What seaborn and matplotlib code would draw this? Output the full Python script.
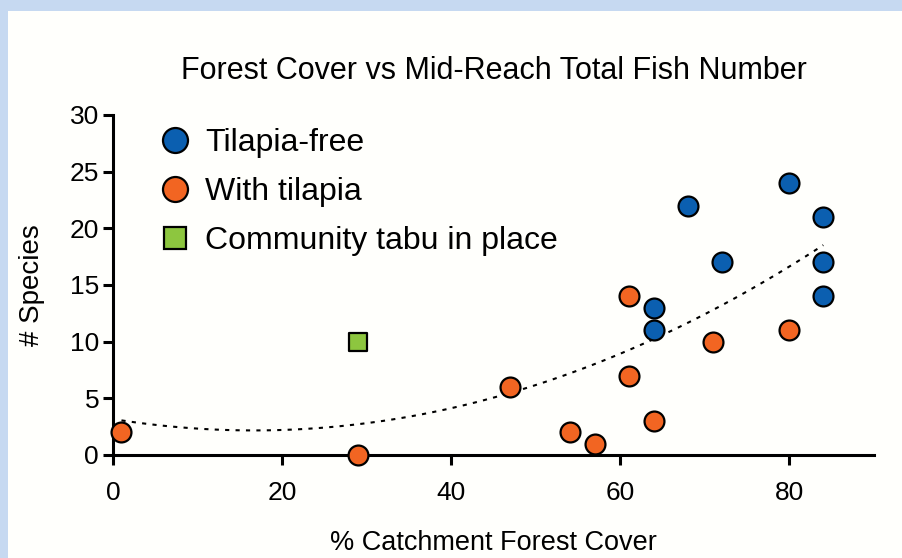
import matplotlib
matplotlib.use("Agg")
import matplotlib.pyplot as plt
import seaborn as sns
import pandas as pd
from matplotlib.lines import Line2D
from matplotlib.patches import Rectangle

# Data
free_x = [80, 84, 68, 72, 84, 84, 64, 64]
free_y = [24, 21, 22, 17, 17, 14, 13, 11]
tilapia_x = [1, 29, 47, 54, 57, 61, 61, 64, 71, 80]
tilapia_y = [2, 0, 6, 2, 1, 14, 7, 3, 10, 11]
tabu_x = [29]
tabu_y = [10]
x_ticks = [0, 20, 40, 60, 80]
y_ticks = [0, 5, 10, 15, 20, 25, 30]

sns.set_style("ticks", {"text.color": "black", "axes.labelcolor": "black",
                        "xtick.color": "black", "ytick.color": "black",
                        "axes.edgecolor": "black"})
plt.rcParams['font.family'] = ['Liberation Sans', 'DejaVu Sans']

BLUE = "#0b5fb0"
ORANGE = "#f26522"
GREEN = "#8dc63f"

fig = plt.figure(figsize=(9.03, 5.58), dpi=100)
fig.patch.set_facecolor("#c6d9f1")
fig.patches.append(Rectangle((8/903, 0), 1 - 8/903, 1 - 11/558, transform=fig.transFigure,
                             facecolor="#fffffc", edgecolor="none", zorder=-10))

ax = fig.add_axes([113/903, 1 - 455/558, (874 - 113)/903, (455 - 115)/558])
ax.set_facecolor("none")
ax.set_zorder(2)

df_free = pd.DataFrame({"x": free_x, "y": free_y})
df_til = pd.DataFrame({"x": tilapia_x, "y": tilapia_y})
df_tabu = pd.DataFrame({"x": tabu_x, "y": tabu_y})
df_all = pd.concat([df_free, df_til, df_tabu], ignore_index=True)

sns.regplot(data=df_all, x="x", y="y", order=2, ci=None, scatter=False, ax=ax,
            line_kws=dict(color="black", linestyle=(0, (2, 3)), linewidth=1.5))

kw = dict(s=205, edgecolor="black", linewidth=1.6, zorder=5, clip_on=False)
sns.scatterplot(data=df_free, x="x", y="y", color=BLUE, marker="o", ax=ax, **kw)
sns.scatterplot(data=df_til, x="x", y="y", color=ORANGE, marker="o", ax=ax, **kw)
sns.scatterplot(data=df_tabu, x="x", y="y", color=GREEN, marker="s", ax=ax,
                s=170, edgecolor="black", linewidth=1.6, zorder=5)

ax.set_xlim(0, 90)
ax.set_ylim(0, 30)
ax.set_xticks(x_ticks)
ax.set_yticks(y_ticks)
sns.despine(ax=ax)
for sp in ["left", "bottom"]:
    ax.spines[sp].set_linewidth(2.2)
    ax.spines[sp].set_color("black")
ax.tick_params(axis="both", width=2.2, length=7, labelsize=19, colors="black")
ax.tick_params(axis="x", pad=12)
ax.tick_params(axis="y", pad=3)

ax.set_xlabel("% Catchment Forest Cover", fontsize=19.5, labelpad=18, color="black")
ax.set_ylabel("# Species", fontsize=20, labelpad=18, color="black")
ax.set_title("Forest Cover vs Mid-Reach Total Fish Number", fontsize=22, pad=26, color="black")

handles = [
    Line2D([], [], linestyle="none", marker="o", markersize=18, markerfacecolor=BLUE,
           markeredgecolor="black", markeredgewidth=1.6),
    Line2D([], [], linestyle="none", marker="o", markersize=18, markerfacecolor=ORANGE,
           markeredgecolor="black", markeredgewidth=1.6),
    Line2D([], [], linestyle="none", marker="s", markersize=16, markerfacecolor=GREEN,
           markeredgecolor="black", markeredgewidth=1.6),
]
labels = ["Tilapia-free", "With tilapia", "Community tabu in place"]
leg = ax.legend(handles, labels, loc="upper left", bbox_to_anchor=(0.0394, 0.999),
                frameon=False, fontsize=23, handlelength=1.2, handletextpad=0.34,
                labelspacing=0.6, borderaxespad=0)
for t in leg.get_texts():
    t.set_color("black")

fig.savefig("out.png", dpi=100)
